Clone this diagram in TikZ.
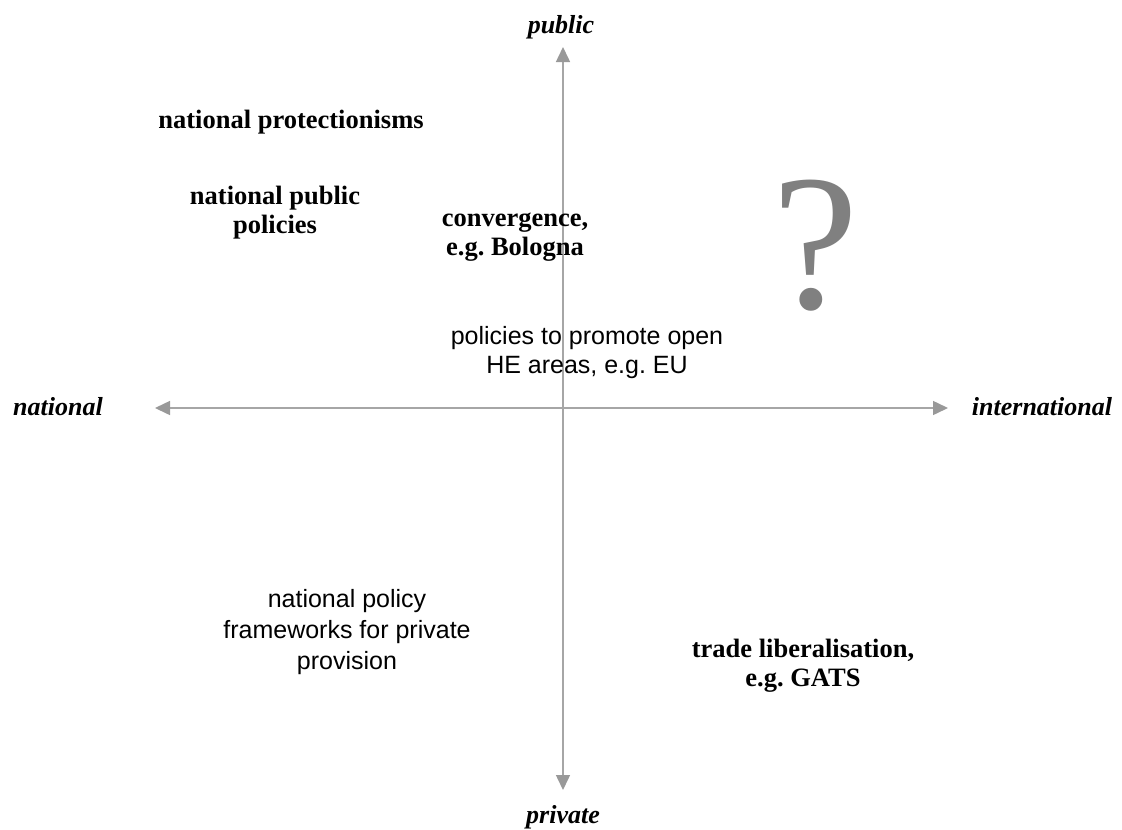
\documentclass[tikz,border=0pt]{standalone}
\usepackage{fontspec}
\setmainfont{Liberation Serif}
\setsansfont{Liberation Sans}
\usetikzlibrary{arrows.meta}
\definecolor{axisgray}{HTML}{A6A6A6}
\definecolor{tipgray}{HTML}{999999}
\definecolor{qgray}{HTML}{808080}
\frenchspacing
\begin{document}
\begin{tikzpicture}[x=1pt,y=-1pt,
  axis/.style={draw=axisgray, line width=1.5pt,
    arrows={Triangle[length=15pt,width=14pt,color=tipgray,fill=tipgray]-Triangle[length=15pt,width=14pt,color=tipgray,fill=tipgray]}},
  axlbl/.style={font=\fontsize{26}{28}\selectfont\bfseries\itshape, inner sep=0pt, anchor=base},
  boldlbl/.style={font=\fontsize{26.5}{28.5}\selectfont\bfseries, align=center, inner sep=0pt, anchor=base},
  sanslbl/.style={font=\fontsize{25}{28.5}\selectfont\sffamily, align=center, inner sep=0pt, anchor=base}]
\useasboundingbox (0,0) rectangle (1122,830);
\fill[white] (0,0) rectangle (1122,830);
\coordinate (top) at (563,47);
\coordinate (bot) at (563,790);
\coordinate (lft) at (155,408);
\coordinate (rgt) at (948,408);
\draw[axis] (bot) -- (top);
\draw[axis] (lft) -- (rgt);
\node[axlbl] (pub) at (561,33) {public};
\node[axlbl] (priv) at (563,823) {private};
\node[axlbl] (nat) at (58,415) {national};
\node[axlbl] (intl) at (1042,415) {international};
\node[boldlbl] (prot) at (291,128) {national protectionisms};
\node[boldlbl] (npp) at (275,233) {national public\\policies};
\node[boldlbl] (conv) at (515,255) {convergence,\\e.g. Bologna};
\node[boldlbl] (trade) at (803,686) {trade liberalisation,\\e.g. GATS};
\node[sanslbl] (open) at (587,373) {policies to promote open\\HE areas, e.g. EU};
\node[sanslbl, font=\fontsize{25}{31}\selectfont\sffamily] (npf) at (347,669) {national policy\\frameworks for private\\provision};
\node[font=\fontsize{194}{194}\selectfont, text=qgray, inner sep=0pt, anchor=base] (q) at (816,308) {?};
\end{tikzpicture}
\end{document}
